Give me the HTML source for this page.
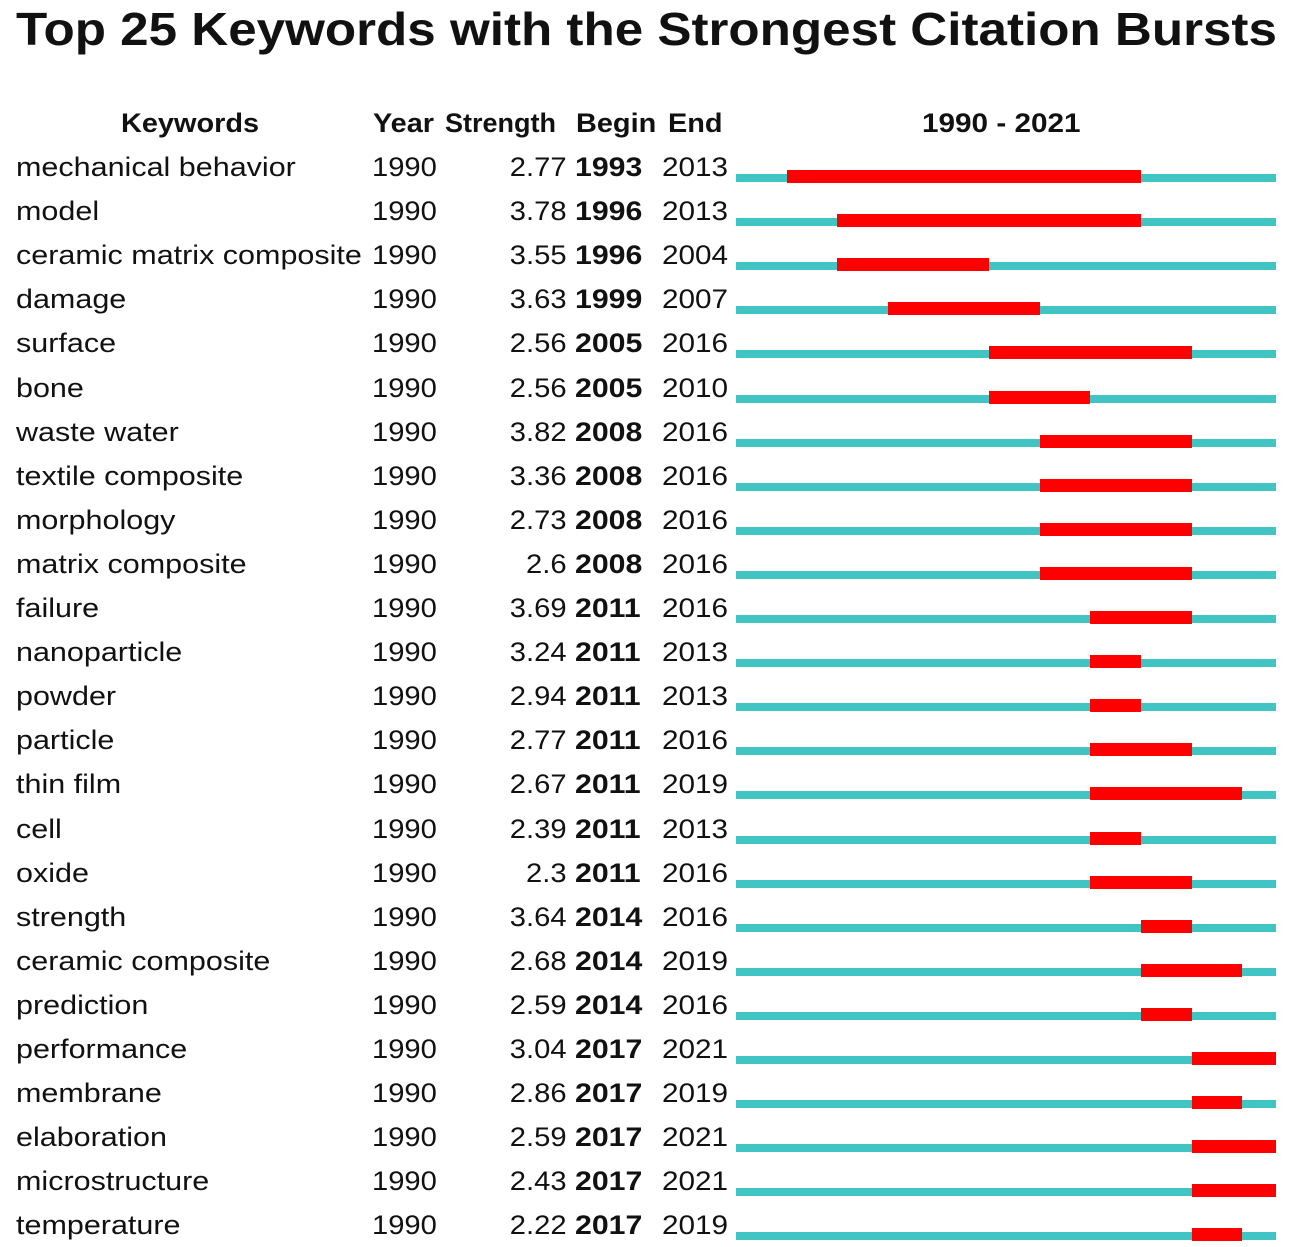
<!DOCTYPE html>
<html><head><meta charset="utf-8"><style>
body{margin:0;background:#fff;width:1291px;height:1247px;overflow:hidden;font-family:"Liberation Sans","DejaVu Sans",sans-serif;color:#111}
.t{position:absolute;white-space:nowrap;transform-origin:left top}
</style></head><body>
<div class="t" style="left:16px;top:2px;font-size:46px;font-weight:bold;transform:scaleX(1.112)">Top 25 Keywords with the Strongest Citation Bursts</div>
<div class="t" style="left:121px;top:108px;font-size:27px;font-weight:bold;transform:scaleX(1.07)">Keywords</div>
<div class="t" style="left:373px;top:108px;font-size:27px;font-weight:bold;transform:scaleX(1.07)">Year</div>
<div class="t" style="left:445px;top:108px;font-size:27px;font-weight:bold;transform:scaleX(1.0)">Strength</div>
<div class="t" style="left:576px;top:108px;font-size:27px;font-weight:bold;transform:scaleX(1.07)">Begin</div>
<div class="t" style="left:668px;top:108px;font-size:27px;font-weight:bold;transform:scaleX(1.07)">End</div>
<div class="t" style="left:922px;top:108px;font-size:27px;font-weight:bold;transform:scaleX(1.1)">1990 - 2021</div>
<div id="rows"></div>
<script>
var d=[["mechanical behavior","2.77",1993,2013],["model","3.78",1996,2013],["ceramic matrix composite","3.55",1996,2004],["damage","3.63",1999,2007],["surface","2.56",2005,2016],["bone","2.56",2005,2010],["waste water","3.82",2008,2016],["textile composite","3.36",2008,2016],["morphology","2.73",2008,2016],["matrix composite","2.6",2008,2016],["failure","3.69",2011,2016],["nanoparticle","3.24",2011,2013],["powder","2.94",2011,2013],["particle","2.77",2011,2016],["thin film","2.67",2011,2019],["cell","2.39",2011,2013],["oxide","2.3",2011,2016],["strength","3.64",2014,2016],["ceramic composite","2.68",2014,2019],["prediction","2.59",2014,2016],["performance","3.04",2017,2021],["membrane","2.86",2017,2019],["elaboration","2.59",2017,2021],["microstructure","2.43",2017,2021],["temperature","2.22",2017,2019]];
var h="",x0=736,w=16.875;
d.forEach(function(r,i){var y=152+i*44.1;
h+='<div class="t" style="left:16px;top:'+y+'px;font-size:27px;transform:scaleX(1.13)">'+r[0]+'</div>';
h+='<div class="t" style="left:372px;top:'+y+'px;font-size:27px;transform:scaleX(1.08)">1990</div>';
h+='<div class="t" style="right:'+(1291-567)+'px;top:'+y+'px;font-size:27px;transform-origin:right top;transform:scaleX(1.08)">'+r[1]+'</div>';
h+='<div class="t" style="left:575px;top:'+y+'px;font-size:27px;font-weight:bold;transform:scaleX(1.12)">'+r[2]+'</div>';
h+='<div class="t" style="left:662px;top:'+y+'px;font-size:27px;transform:scaleX(1.1)">'+r[3]+'</div>';
var by=174+i*44.1;
h+='<div class="t" style="left:736px;top:'+by+'px;width:540px;height:8px;background:#40c4c4"></div>';
var a=x0+(r[2]-1990)*w,b=x0+(r[3]-1990+1)*w;
h+='<div class="t" style="left:'+a+'px;top:'+(by-4)+'px;width:'+(b-a)+'px;height:13px;background:#ff0000"></div>';
});
document.getElementById("rows").innerHTML=h;
</script>
</body></html>
